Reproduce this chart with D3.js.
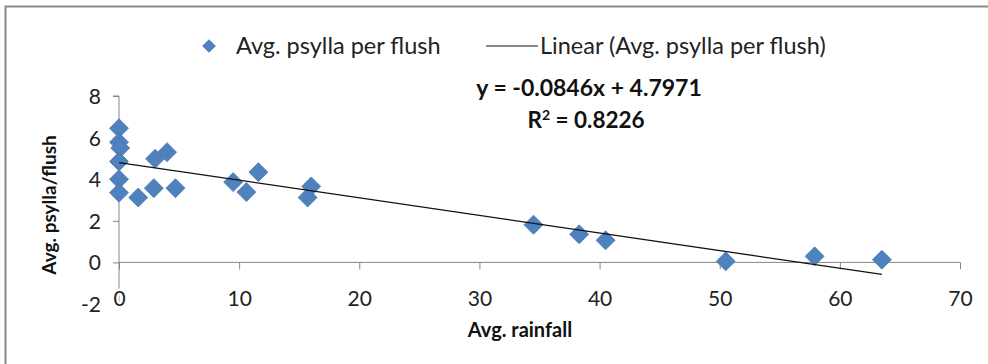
<!DOCTYPE html>
<html>
<head>
<meta charset="utf-8">
<script src="https://cdnjs.cloudflare.com/ajax/libs/d3/7.8.5/d3.min.js"></script>
<style>
  body { margin: 0; background: #fff; }
  svg text { font-family: Lato, "DejaVu Sans Condensed", sans-serif; }
</style>
</head>
<body>
<div id="chart"></div>
<script>
// values
var rainfall = [0, 0, 0.1, 0, 0, 0, 1.6, 2.9, 3.0, 4.0, 4.7, 9.5, 10.6, 11.6, 15.7, 16.0, 34.5, 38.3, 40.5, 50.5, 57.9, 63.5];
var psylla   = [6.45, 5.78, 5.5, 4.85, 4.0, 3.35, 3.12, 3.57, 4.98, 5.3, 3.57, 3.86, 3.38, 4.34, 3.12, 3.65, 1.81, 1.35, 1.06, 0.05, 0.29, 0.13];
var xTicks = [0, 10, 20, 30, 40, 50, 60, 70];
var yTicks = [-2, 0, 2, 4, 6, 8];
var slope = -0.0846, intercept = 4.7971, r2 = "0.8226";

var W = 988, H = 364;
var svg = d3.select("#chart").append("svg").attr("width", W).attr("height", H);

// chart border (only top and left visible)
svg.append("rect").attr("x", 5.5).attr("y", 6.5).attr("width", W + 20).attr("height", H + 20)
  .attr("fill", "none").attr("stroke", "#8a8a8a").attr("stroke-width", 2);

var x = d3.scaleLinear().domain([0, 70]).range([119, 960]);
var y = d3.scaleLinear().domain([-2, 8]).range([304, 96]);

var axisCol = "#868686";

// y axis
var yAxis = svg.append("g").attr("transform", "translate(" + x(0) + ",0)")
  .call(d3.axisLeft(y).tickValues(yTicks).tickSize(6).tickPadding(12).tickFormat(function(d) { return String(d); }));
yAxis.select(".domain").attr("stroke", axisCol).attr("d", "M-6," + y(8) + "H0V" + y(-2));
yAxis.selectAll(".tick line").attr("stroke", axisCol);
yAxis.selectAll(".tick text").attr("font-size", 21).attr("fill", "#222").attr("dy", "0.36em");

// x axis at y = 0
var xAxis = svg.append("g").attr("transform", "translate(0," + y(0) + ")")
  .call(d3.axisBottom(x).tickValues(xTicks).tickSize(7).tickPadding(22));
xAxis.select(".domain").attr("stroke", axisCol).attr("d", "M" + x(0) + ",0H" + x(70));
xAxis.selectAll(".tick line").attr("stroke", axisCol);
xAxis.selectAll(".tick text").attr("font-size", 21).attr("fill", "#222")
  .attr("stroke", "#fff").attr("stroke-width", 5).attr("paint-order", "stroke");

// points
var pts = rainfall.map(function(d, i) { return { x: d, y: psylla[i] }; });
var diamond = d3.symbol().type(d3.symbolDiamond2).size(230);
svg.append("g").selectAll("path").data(pts).enter().append("path")
  .attr("d", diamond)
  .attr("transform", function(d) { return "translate(" + x(d.x) + "," + y(d.y) + ")"; })
  .attr("fill", "#4f81bd").attr("stroke", "#4a7ab5").attr("stroke-width", 0.8);

// linear trend
var xMax = d3.max(rainfall);
svg.append("line")
  .attr("x1", x(0)).attr("y1", y(intercept))
  .attr("x2", x(xMax)).attr("y2", y(slope * xMax + intercept))
  .attr("stroke", "#111").attr("stroke-width", 1.3);

// equation
svg.append("text").attr("x", 589).attr("y", 96).attr("text-anchor", "middle")
  .attr("font-size", 23).attr("font-weight", "bold").attr("fill", "#111")
  .text("y = " + slope + "x + " + intercept);
var rt = svg.append("text").attr("x", 586).attr("y", 128).attr("text-anchor", "middle")
  .attr("font-size", 22.5).attr("font-weight", "bold").attr("fill", "#111");
rt.append("tspan").text("R");
rt.append("tspan").attr("font-size", 14).attr("dy", -8).text("2");
rt.append("tspan").attr("dy", 8).text(" = " + r2);

// legend
var leg = svg.append("g");
leg.append("path").attr("d", d3.symbol().type(d3.symbolDiamond2).size(120))
  .attr("transform", "translate(209,46)").attr("fill", "#4f81bd");
leg.append("text").attr("x", 236).attr("y", 46).attr("dy", "0.36em")
  .attr("font-size", 23.5).attr("fill", "#222").text("Avg. psylla per flush");
leg.append("line").attr("x1", 486).attr("x2", 538).attr("y1", 46).attr("y2", 46)
  .attr("stroke", "#111").attr("stroke-width", 1.2);
leg.append("text").attr("x", 540).attr("y", 46).attr("dy", "0.36em")
  .attr("font-size", 23.5).attr("fill", "#222").text("Linear (Avg. psylla per flush)");

// axis titles
svg.append("text").attr("x", 520).attr("y", 337).attr("text-anchor", "middle")
  .attr("font-size", 20).attr("font-weight", "bold").attr("fill", "#111").text("Avg. rainfall");
svg.append("text").attr("transform", "translate(56,205) rotate(-90)").attr("text-anchor", "middle")
  .attr("font-size", 19).attr("font-weight", "bold").attr("fill", "#111").text("Avg. psylla/flush");
</script>
</body>
</html>
